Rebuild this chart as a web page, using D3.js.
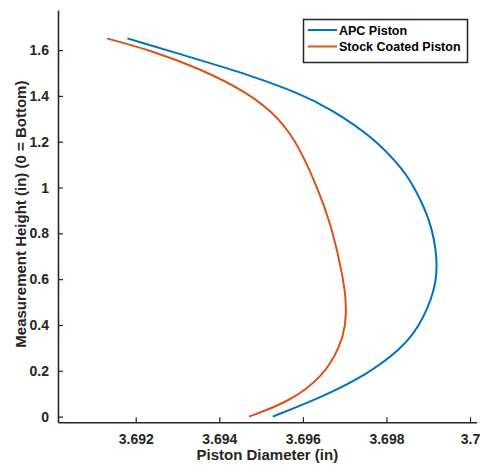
<!DOCTYPE html>
<html>
<head>
<meta charset="utf-8">
<script src="https://cdn.jsdelivr.net/npm/d3@7"></script>
<style>
  body { margin: 0; background: #fff; }
  text { font-family: "Liberation Sans", Arial, sans-serif; }
</style>
</head>
<body>
<div id="chart"></div>
<script>
// 数据
const apcDiameter = [3.69180, 3.69353, 3.69472, 3.69592, 3.69664, 3.69767, 3.69842, 3.69870, 3.69905, 3.69923, 3.69918, 3.69877, 3.69832, 3.69752, 3.69648, 3.69528];
const apcHeight   = [1.651,   1.557,   1.491,   1.411,   1.346,   1.222,   1.076,   0.989,   0.858,   0.692,   0.553,   0.385,   0.291,   0.182,   0.087,   0.0];

const stockDiameter = [3.69131, 3.69234, 3.69353, 3.69472, 3.69544, 3.69592, 3.69644, 3.69673, 3.69694, 3.69704, 3.69703, 3.69689, 3.69648, 3.69568, 3.69471];
const stockHeight   = [1.651,   1.600,   1.520,   1.411,   1.302,   1.178,   0.959,   0.800,   0.625,   0.509,   0.400,   0.305,   0.174,   0.065,   0.0];

const seriesNames = ["APC Piston", "Stock Coated Piston"];
const seriesColors = ["#0072BD", "#D95319"];

const xTicks = [3.692, 3.694, 3.696, 3.698, 3.7];
const xTickLabels = ["3.692", "3.694", "3.696", "3.698", "3.7"];
const yTicks = [0, 0.2, 0.4, 0.6, 0.8, 1, 1.2, 1.4, 1.6];
const yTickLabels = ["0", "0.2", "0.4", "0.6", "0.8", "1", "1.2", "1.4", "1.6"];

const width = 484, height = 467;
const plot = { left: 58, right: 476.7, top: 10, bottom: 422.3 };
const axisColor = "#262626";

const svg = d3.select("#chart").append("svg")
    .attr("width", width)
    .attr("height", height);

const x = d3.scaleLinear().domain([3.69014, 3.70016]).range([plot.left, plot.right]);
const y = d3.scaleLinear().domain([-0.025, 1.775]).range([plot.bottom, plot.top]);

// 坐标轴
const xAxis = d3.axisBottom(x)
    .tickValues(xTicks)
    .tickFormat((d, i) => xTickLabels[i])
    .tickSizeInner(-5).tickSizeOuter(0).tickPadding(12);
const yAxis = d3.axisLeft(y)
    .tickValues(yTicks)
    .tickFormat((d, i) => yTickLabels[i])
    .tickSizeInner(-5).tickSizeOuter(0).tickPadding(9);

const gx = svg.append("g").attr("transform", `translate(0,${plot.bottom})`).call(xAxis);
const gy = svg.append("g").attr("transform", `translate(${plot.left},0)`).call(yAxis);

[gx, gy].forEach(g => {
    g.select(".domain").attr("stroke", axisColor).attr("stroke-width", 1.6);
    g.selectAll(".tick line").attr("stroke", axisColor).attr("stroke-width", 1.2);
    g.selectAll(".tick text")
        .attr("fill", axisColor)
        .style("font-size", "14px")
        .style("font-weight", "bold")
        .style("font-family", "'Liberation Sans', Arial, sans-serif");
});

// 轴标题
svg.append("text")
    .attr("x", (plot.left + plot.right) / 2)
    .attr("y", 460)
    .attr("text-anchor", "middle")
    .attr("fill", axisColor)
    .style("font-size", "15px")
    .style("font-weight", "bold")
    .text("Piston Diameter (in)");

svg.append("text")
    .attr("transform", `translate(26,${(plot.top + plot.bottom) / 2 - 2}) rotate(-90)`)
    .attr("text-anchor", "middle")
    .attr("fill", axisColor)
    .style("font-size", "15px")
    .style("font-weight", "bold")
    .text("Measurement Height (in) (0 = Bottom)");

// 曲线（B样条平滑）
const line = d3.line()
    .x(d => x(d[0]))
    .y(d => y(d[1]))
    .curve(d3.curveBasis);

const series = [
    d3.zip(apcDiameter, apcHeight),
    d3.zip(stockDiameter, stockHeight)
];

series.forEach((pts, i) => {
    svg.append("path")
        .datum(pts)
        .attr("fill", "none")
        .attr("stroke", seriesColors[i])
        .attr("stroke-width", 2)
        .attr("d", line);
});

// 图例
const legend = svg.append("g");
legend.append("rect")
    .attr("x", 303.5).attr("y", 19.5)
    .attr("width", 164).attr("height", 43)
    .attr("fill", "#fff")
    .attr("stroke", axisColor)
    .attr("stroke-width", 1.5);

seriesNames.forEach((name, i) => {
    const ly = 30 + i * 16.5;
    legend.append("line")
        .attr("x1", 308).attr("x2", 337)
        .attr("y1", ly).attr("y2", ly)
        .attr("stroke", seriesColors[i])
        .attr("stroke-width", 2);
    legend.append("text")
        .attr("x", 339).attr("y", ly + 4.5)
        .attr("fill", "#000")
        .style("font-size", "12.5px")
        .style("font-weight", "bold")
        .text(name);
});
</script>
</body>
</html>
